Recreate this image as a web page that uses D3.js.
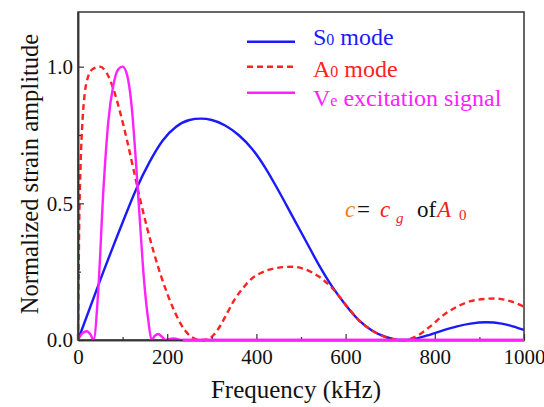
<!DOCTYPE html>
<html><head><meta charset="utf-8">
<script src="https://cdn.jsdelivr.net/npm/d3@7"></script>
</head>
<body style="margin:0;background:#fff">
<svg id="chart" width="544" height="407"></svg>
<script>
// ---- data ----
const s0Freq = [0,50,100,130,160,190,220,250,275,300,330,360,390,420,450,480,510,540,570,600,630,660,690,715,730,760,790,820,850,880,915,950,975,1000];
const s0Amp  = [0,0.22,0.43,0.55,0.65,0.73,0.78,0.805,0.81,0.805,0.785,0.75,0.70,0.63,0.545,0.455,0.365,0.275,0.195,0.128,0.072,0.034,0.011,0.001,0,0.006,0.02,0.036,0.05,0.06,0.065,0.06,0.05,0.037];

const a0Freq = [0,3,6,10,15,22,32,49,65,80,95,110,125,140,155,170,185,200,215,230,245,260,275,290,305,320,335,350,370,390,410,440,480,510,540,570,600,630,660,690,715,732,760,790,820,850,880,910,935,960,980,1000];
const a0Amp  = [0,0.45,0.65,0.8,0.9,0.96,0.99,1.0,0.975,0.915,0.83,0.73,0.62,0.51,0.41,0.32,0.24,0.17,0.11,0.06,0.025,0.006,0,0.002,0.02,0.055,0.1,0.145,0.19,0.225,0.245,0.262,0.268,0.258,0.232,0.19,0.13,0.072,0.034,0.011,0.001,0,0.015,0.05,0.092,0.122,0.142,0.15,0.152,0.146,0.136,0.122];

const veFreq = [0,10,20,28,35,45,57,68,79,90,100,110,120,130,139,148,158,165,172,180,188,197,205,215,225,235,1000];
const veAmp  = [0,0.025,0.032,0.02,0,0.17,0.55,0.8,0.93,0.99,1.0,0.97,0.86,0.65,0.43,0.22,0.067,0,0.015,0.022,0.012,0,0.004,0.006,0.002,0,0];

const xTicksMajor = [0,200,400,600,800,1000];
const xTicksMinor = [100,300,500,700,900];
const yTicksMajor = [0,0.5,1.0];
const yTicksMinor = [0.25,0.75];

const legendItems = [
  {main:"S", sub:"0", rest:" mode", color:"#1a1aff", dash:null},
  {main:"A", sub:"0", rest:" mode", color:"#ff2222", dash:"6,4"},
  {main:"V", sub:"e", rest:" excitation signal", color:"#ff22ff", dash:null}
];

const FONT = "'Liberation Serif'";

// ---- layout ----
const svg = d3.select("#chart");
const L = 78, R = 524, T = 12, B = 340;
const x = d3.scaleLinear().domain([0,1000]).range([L,R]);
const y = d3.scaleLinear().domain([0,1.2]).range([B,T]);
const axisColor = "#333";

svg.append("rect").attr("x",L).attr("y",T).attr("width",R-L).attr("height",B-T)
  .attr("fill","none").attr("stroke",axisColor).attr("stroke-width",1.5);

const line = d3.line().x(d=>x(d[0])).y(d=>y(d[1])).curve(d3.curveMonotoneX);
function series(fr, am){ return fr.map((f,i)=>[f, am[i]]); }

const plot = svg.append("g");
plot.append("path").datum(series(s0Freq,s0Amp)).attr("d",line)
  .attr("fill","none").attr("stroke","#1a1aff").attr("stroke-width",2.4);
plot.append("path").datum(series(a0Freq,a0Amp)).attr("d",line)
  .attr("fill","none").attr("stroke","#ff2222").attr("stroke-width",2.4).attr("stroke-dasharray","6,4");
plot.append("path").datum(series(veFreq,veAmp)).attr("d",line)
  .attr("fill","none").attr("stroke","#ff22ff").attr("stroke-width",2.4);

const fontTick = 21;
const gx = svg.append("g").attr("transform",`translate(0,${B})`)
  .call(d3.axisBottom(x).tickValues(xTicksMajor).tickSizeInner(-6).tickSizeOuter(0).tickPadding(9).tickFormat(d3.format("d")));
const gxm = svg.append("g").attr("transform",`translate(0,${B})`)
  .call(d3.axisBottom(x).tickValues(xTicksMinor).tickSizeInner(-3).tickSizeOuter(0).tickFormat(""));
const gy = svg.append("g").attr("transform",`translate(${L},0)`)
  .call(d3.axisLeft(y).tickValues(yTicksMajor).tickSizeInner(-6).tickSizeOuter(0).tickPadding(5).tickFormat(d3.format(".1f")));
const gym = svg.append("g").attr("transform",`translate(${L},0)`)
  .call(d3.axisLeft(y).tickValues(yTicksMinor).tickSizeInner(-3).tickSizeOuter(0).tickFormat(""));
[gx,gxm,gy,gym].forEach(g=>{
  g.attr("font-family",FONT);
  g.select(".domain").attr("stroke",axisColor).attr("stroke-width",1.5);
  g.selectAll(".tick line").attr("stroke",axisColor).attr("stroke-width",1.2);
  g.selectAll(".tick text").attr("fill","#111").attr("font-size",fontTick).style("font-family",FONT);
});
svg.append("line").attr("x1",x(235)).attr("x2",x(1000)).attr("y1",y(0)).attr("y2",y(0))
  .attr("stroke","#ff22ff").attr("stroke-width",2.4);

svg.append("text").attr("x",296).attr("y",398).attr("text-anchor","middle")
  .attr("font-size",25).attr("fill","#111").style("font-family",FONT).text("Frequency (kHz)");
svg.append("text").attr("transform",`translate(38,174) rotate(-90)`).attr("text-anchor","middle")
  .attr("font-size",24.5).attr("fill","#111").style("font-family",FONT).text("Normalized strain amplitude");

const legLineY = [41.7, 66.7, 92.7];
const legTextY = [45, 77, 106];
const leg = svg.append("g");
legendItems.forEach((it,i)=>{
  leg.append("line").attr("x1",247).attr("x2",295).attr("y1",legLineY[i]).attr("y2",legLineY[i])
    .attr("stroke",it.color).attr("stroke-width",2.4).attr("stroke-dasharray",it.dash);
  const t = leg.append("text").attr("x",313).attr("y",legTextY[i]).attr("fill",it.color)
    .attr("font-size",24).style("font-family",FONT);
  t.append("tspan").text(it.main);
  t.append("tspan").attr("font-size",16).text(it.sub);
  t.append("tspan").text(it.rest);
});

const ann = svg.append("text").attr("y",217).attr("font-size",23).style("font-family",FONT);
ann.append("tspan").attr("x",345).attr("fill","#f07f1e").attr("font-style","italic").text("c");
ann.append("tspan").attr("x",357).attr("fill","#111").text("=");
ann.append("tspan").attr("x",380).attr("fill","#ee2222").attr("font-style","italic").text("c");
ann.append("tspan").attr("x",396).attr("dy",6).attr("font-size",15).attr("fill","#ee2222").attr("font-style","italic").text("g");
ann.append("tspan").attr("x",417).attr("dy",-6).attr("fill","#111").text("of");
ann.append("tspan").attr("x",437).attr("fill","#ee2222").attr("font-style","italic").text("A");
ann.append("tspan").attr("x",459).attr("dy",3).attr("font-size",15).attr("fill","#ee2222").text("0");
</script>
</body></html>
